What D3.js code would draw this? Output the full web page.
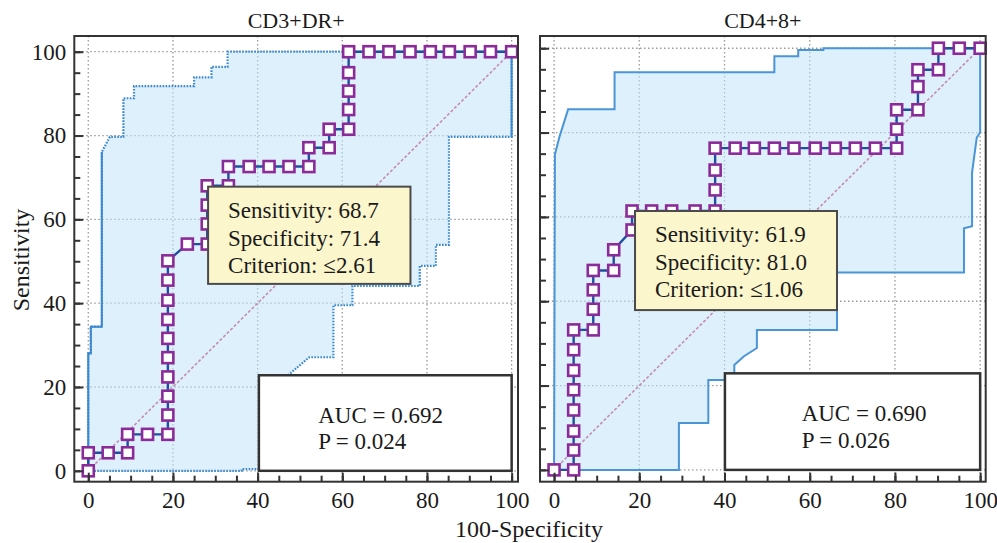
<!DOCTYPE html>
<html>
<head>
<meta charset="utf-8">
<script src="https://cdn.jsdelivr.net/npm/d3@7"></script>
<style>
  body { margin: 0; background: #fff; }
  text { font-family: "Liberation Serif", "Times New Roman", serif; fill: #1a1a1a; }
</style>
</head>
<body>
<svg width="997" height="543"></svg>
<script>
// ROC points, [100-Specificity, Sensitivity]
var cd3Roc = [[0,0],[0,4.3],[4.7,4.3],[9.3,4.3],[9.3,8.7],[14,8.7],[18.8,8.7],[18.8,13.3],[18.8,17.8],
  [18.8,22.4],[18.8,27],[18.8,31.6],[18.8,36.1],[18.8,40.7],[18.8,45.5],[18.8,50.1],[23.4,54.1],[28.1,54.1],
  [28.1,58.9],[28.1,63.4],[28.1,68],[33.1,68],[33.1,72.6],[38,72.6],[42.7,72.6],[47.4,72.6],[52.1,72.6],
  [52.1,77.1],[56.9,77.1],[56.9,81.5],[61.5,81.5],[61.5,86.2],[61.5,90.6],[61.5,95],[61.5,100],[66.3,100],
  [71,100],[76,100],[80.8,100],[85.3,100],[90.2,100],[95,100],[100,100]];
// confidence band edges
var cd3Upper = [[0,0],[0,28],[0.6,28],[0.6,34.4],[3.2,34.4],[3.2,76.1],[5.1,79.7],[8.3,79.7],[8.3,88.9],
  [10.8,88.9],[10.8,91.8],[25,91.8],[25,93.9],[29.1,93.9],[29.1,96.4],[32.9,96.4],[32.9,100],[100,100]];
var cd3Lower = [[0,0],[36.2,0],[36.2,0.4],[42,0.4],[42,10],[45,10],[45,18],[47.2,22.8],[52.2,27.1],
  [57.9,27.1],[57.9,39.5],[62.4,39.5],[62.4,44.1],[78.3,44.1],[78.3,48.9],[82.1,48.9],[82.1,53.9],
  [85.2,53.9],[85.2,79.7],[100,79.7],[100,100]];

var cd48Roc = [[0,0],[4.6,0],[4.6,4.7],[4.6,9.2],[4.6,14.2],[4.6,19],[4.6,23.6],[4.6,28.5],[4.6,33.2],
  [9.2,33.2],[9.2,38.1],[9.2,42.7],[9.2,47.3],[14,47.3],[14,52.2],[18.3,56.9],[18.3,61.4],[22.9,61.4],
  [27.6,61.4],[33.1,61.4],[37.8,61.4],[37.8,66.4],[37.8,71.1],[37.8,76.3],[42.5,76.3],[47,76.3],[51.7,76.3],
  [56.3,76.3],[61.3,76.3],[66,76.3],[70.7,76.3],[75.4,76.3],[80.4,76.3],[80.4,80.8],[80.4,85.4],[85.4,85.4],
  [85.4,90.9],[85.4,94.9],[90.2,94.9],[90.2,100],[95.1,100],[100,100]];
var cd48Upper = [[0,0],[0.2,74.8],[1.3,79.1],[3.3,85.5],[14.2,85.5],[14.2,94.3],[51.7,94.3],[51.7,98.1],
  [57.3,98.1],[57.3,99.6],[63.2,99.6],[63.2,100],[100,100]];
var cd48Lower = [[0,0],[29.3,0],[29.3,11.1],[36.2,11.1],[36.2,21.3],[40.5,21.3],[42.3,22.5],[42.3,24.9],
  [44.5,26.9],[47.6,28.9],[47.6,33.2],[66.4,33.2],[66.4,46.8],[96.2,46.8],[96.2,57.3],[98.1,57.8],
  [98.1,70.5],[99.2,78.8],[100,80],[100,100]];

var titles = ["CD3+DR+", "CD4+8+"];
var cd3Info = ["Sensitivity: 68.7", "Specificity: 71.4", "Criterion: \u22642.61"];
var cd48Info = ["Sensitivity: 61.9", "Specificity: 81.0", "Criterion: \u22641.06"];
var cd3Auc = ["AUC = 0.692", "P = 0.024"];
var cd48Auc = ["AUC = 0.690", "P = 0.026"];
var majorTicks = [0, 20, 40, 60, 80, 100];
var minorTicks = d3.range(0, 101, 5);

var svg = d3.select("svg");

var panels = [
  {title: titles[0], roc: cd3Roc, upper: cd3Upper, lower: cd3Lower, dotted: true, upperSolid: 6, lowerSolid: 2,
   info: cd3Info, auc: cd3Auc, left: 74.3, right: 518, xDom: [-3.3, 101.5], yDom: [-2.6, 103.75],
   infoBox: [28.3, 67.8, 76.1, 44.6], aucBox: [40.3, 22.8, 100, 0], aucX: 54.3, yLabels: true},
  {title: titles[1], roc: cd48Roc, upper: cd48Upper, lower: cd48Lower, dotted: false,
   info: cd48Info, auc: cd48Auc, left: 540, right: 985.7, xDom: [-3.3, 101.3], yDom: [-2.8, 102.9],
   infoBox: [19, 61.4, 66.4, 37.9], aucBox: [40.1, 22.9, 100, 0], aucX: 58.1, yLabels: false}
];
var plotTop = 36, plotBottom = 481.7;

panels.forEach(function(p) {
  var x = d3.scaleLinear().domain(p.xDom).range([p.left, p.right]);
  var y = d3.scaleLinear().domain(p.yDom).range([plotBottom, plotTop]);
  var g = svg.append("g");

  g.append("rect").attr("x", p.left).attr("y", plotTop)
    .attr("width", p.right - p.left).attr("height", plotBottom - plotTop).attr("fill", "#fff");

  // dotted grid
  majorTicks.forEach(function(t) {
    g.append("line").attr("x1", x(t)).attr("x2", x(t)).attr("y1", plotTop).attr("y2", plotBottom)
      .attr("stroke", "#9a9a9a").attr("stroke-width", 1.3).attr("stroke-dasharray", "1.5,2.5");
    g.append("line").attr("x1", p.left).attr("x2", p.right).attr("y1", y(t)).attr("y2", y(t))
      .attr("stroke", "#9a9a9a").attr("stroke-width", 1.3).attr("stroke-dasharray", "1.5,2.5");
  });

  var line = d3.line().x(function(d) { return x(d[0]); }).y(function(d) { return y(d[1]); });

  // confidence band
  var band = p.upper.concat(p.lower.slice().reverse());
  g.append("path").attr("d", line(band) + "Z")
    .attr("fill", "#c3e3f7").attr("fill-opacity", 0.55).attr("stroke", "none");

  var bandColor = "#3a88d2";
  if (p.dotted) {
    [p.upper, p.lower].forEach(function(b) {
      g.append("path").attr("d", line(b)).attr("fill", "none").attr("stroke", bandColor)
        .attr("stroke-width", 2.2).attr("stroke-dasharray", "1.6,1.4");
    });
    g.append("path").attr("d", line(p.upper.slice(0, p.upperSolid))).attr("fill", "none")
      .attr("stroke", bandColor).attr("stroke-width", 2);
    g.append("path").attr("d", line(p.lower.slice(-p.lowerSolid))).attr("fill", "none")
      .attr("stroke", bandColor).attr("stroke-width", 2);
  } else {
    [p.upper, p.lower].forEach(function(b) {
      g.append("path").attr("d", line(b)).attr("fill", "none").attr("stroke", "#4a94d8")
        .attr("stroke-width", 2);
    });
  }

  // reference diagonal
  g.append("path").attr("d", line([[0, 0], [100, 100]]))
    .attr("stroke", "#c48cb4").attr("stroke-width", 1.6).attr("stroke-dasharray", "3,2");

  // ROC curve
  g.append("path").attr("d", line(p.roc)).attr("fill", "none")
    .attr("stroke", "#1f4f9e").attr("stroke-width", 2.4);
  g.selectAll(".pt").data(p.roc).enter().append("rect")
    .attr("class", "pt")
    .attr("x", function(d) { return x(d[0]) - 5.5; })
    .attr("y", function(d) { return y(d[1]) - 5.5; })
    .attr("width", 11).attr("height", 11)
    .attr("fill", "#fff").attr("stroke", "#8b2b99").attr("stroke-width", 2.6);

  // criterion box
  var ib = p.infoBox;
  g.append("rect").attr("x", x(ib[0])).attr("y", y(ib[1]))
    .attr("width", x(ib[2]) - x(ib[0])).attr("height", y(ib[3]) - y(ib[1]))
    .attr("fill", "#fcf6cd").attr("stroke", "#4a4a4a").attr("stroke-width", 2);
  g.selectAll(".info").data(p.info).enter().append("text")
    .attr("x", x(ib[0]) + 20)
    .attr("y", function(d, i) { return y(ib[1]) + 31.5 + i * 27.5; })
    .style("font-size", "23px").text(function(d) { return d; });

  // AUC box
  var ab = p.aucBox;
  g.append("rect").attr("x", x(ab[0])).attr("y", y(ab[1]))
    .attr("width", x(ab[2]) - x(ab[0])).attr("height", y(ab[3]) - y(ab[1]))
    .attr("fill", "#fff").attr("stroke", "#333").attr("stroke-width", 2.5);
  g.selectAll(".auc").data(p.auc).enter().append("text")
    .attr("x", x(p.aucX))
    .attr("y", function(d, i) { return y(ab[1]) + 47.5 + i * 26.7; })
    .style("font-size", "23px").text(function(d) { return d; });

  // frame
  g.append("rect").attr("x", p.left).attr("y", plotTop)
    .attr("width", p.right - p.left).attr("height", plotBottom - plotTop)
    .attr("fill", "none").attr("stroke", "#333").attr("stroke-width", 2);

  // axes, ticks pointing inward
  var xMinor = g.append("g").attr("transform", "translate(0," + plotBottom + ")")
    .call(d3.axisBottom(x).tickValues(minorTicks).tickSize(-6).tickFormat(""));
  var xMajor = g.append("g").attr("transform", "translate(0," + plotBottom + ")")
    .call(d3.axisBottom(x).tickValues(majorTicks).tickSize(-9).tickPadding(10).tickFormat(d3.format("d")));
  var yMinor = g.append("g").attr("transform", "translate(" + p.left + ",0)")
    .call(d3.axisLeft(y).tickValues(minorTicks).tickSize(-6).tickFormat(""));
  var yMajor = g.append("g").attr("transform", "translate(" + p.left + ",0)")
    .call(d3.axisLeft(y).tickValues(majorTicks).tickSize(-9).tickPadding(8)
      .tickFormat(p.yLabels ? d3.format("d") : ""));
  [xMinor, xMajor, yMinor, yMajor].forEach(function(a) {
    a.select(".domain").remove();
    a.selectAll("line").attr("stroke", "#333").attr("stroke-width", 2);
    a.selectAll("text").attr("font-family", null).style("font-size", "23px").attr("fill", "#1a1a1a");
  });

  g.append("text").attr("x", (p.left + p.right) / 2).attr("y", 28)
    .attr("text-anchor", "middle").style("font-size", "22px").text(p.title);
});

svg.append("text").attr("transform", "translate(29,260) rotate(-90)")
  .attr("text-anchor", "middle").style("font-size", "24px").text("Sensitivity");
svg.append("text").attr("x", 529).attr("y", 537)
  .attr("text-anchor", "middle").style("font-size", "24px").text("100-Specificity");
</script>
</body>
</html>
